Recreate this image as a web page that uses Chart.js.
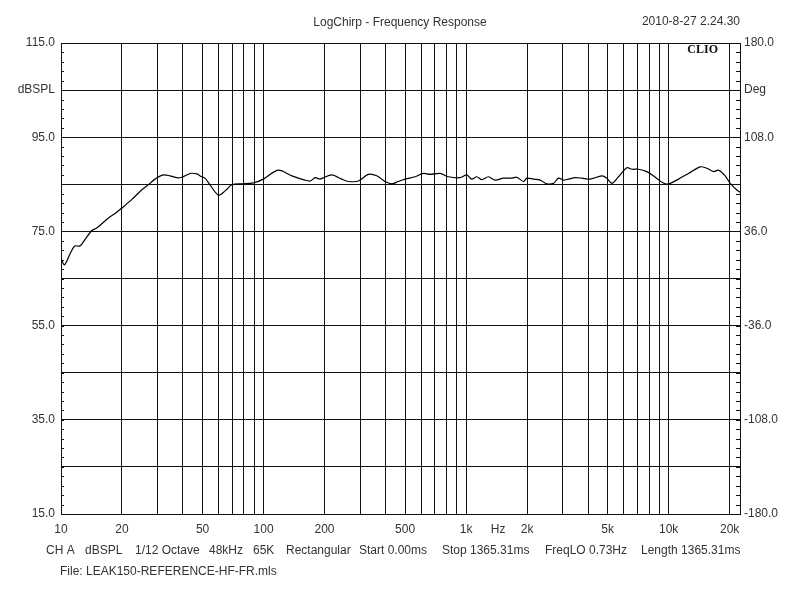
<!DOCTYPE html>
<html>
<head>
<meta charset="utf-8">
<script src="https://cdn.jsdelivr.net/npm/chart.js@4/dist/chart.umd.min.js"></script>
<style>
  html, body { margin: 0; padding: 0; background: #ffffff; }
  #wrap { width: 800px; height: 600px; }
</style>
</head>
<body>
<div id="wrap"><canvas id="c" width="800" height="600"></canvas></div>
<script>
// ---- data ----
const freqHz = [10, 10.4, 11.1, 11.7, 12.4, 13.1, 14.2, 15.0, 17.1, 18.5, 19.9, 22.4, 25.0, 27.5, 29.1,
  32.0, 34.5, 37.3, 39.5, 43.4, 46.8, 49.5, 51.4, 54.4, 59.8, 64.6, 69.7, 78.1, 89.1, 99.8,
  118, 138, 160, 170, 180, 190, 217, 243, 262, 294, 329, 362, 398, 430, 463, 500, 560, 615,
  664, 744, 818, 934, 1008, 1067, 1129, 1196, 1289, 1391, 1529, 1682, 1780, 1919, 1994, 2149,
  2320, 2503, 2699, 2857, 3024, 3201, 3454, 3727, 4095, 4679, 4953, 5243, 5650, 6218, 6581,
  7096, 7805, 8412, 9078, 9610, 10171, 11180, 12525, 14307, 15442, 16643, 17620, 19011,
  20124, 21720, 22500];
const splDb = [69.3, 67.9, 70.3, 71.9, 71.9, 73.2, 75.2, 75.7, 77.8, 78.8, 79.9, 81.8, 83.8, 85.2, 86.1,
  87.0, 86.8, 86.4, 86.5, 87.3, 87.2, 86.6, 86.3, 84.9, 82.7, 83.6, 84.9, 85.1, 85.3, 86.1,
  88.0, 86.8, 85.9, 85.7, 86.4, 86.1, 87.0, 86.1, 85.6, 85.7, 87.1, 86.8, 85.6, 85.1, 85.6, 86.1, 86.6, 87.3,
  87.1, 87.3, 86.6, 86.4, 87.0, 86.1, 86.6, 86.0, 86.6, 85.9, 86.3, 86.3, 86.5, 85.6, 86.3, 86.1,
  85.9, 85.1, 85.2, 86.3, 85.9, 86.1, 86.4, 86.3, 86.1, 86.8, 86.3, 85.2, 86.6, 88.5, 88.2,
  88.2, 87.7, 86.8, 85.7, 85.1, 85.2, 86.1, 87.3, 88.7, 88.4, 87.7, 88.0, 86.8,
  85.2, 83.8, 83.3];

// axis definitions
const xMin = 10, xMax = 22500;
const xGridFreqs = [20, 30, 40, 50, 60, 70, 80, 90, 100, 200, 300, 400, 500, 600, 700, 800, 900, 1000,
  2000, 3000, 4000, 5000, 6000, 7000, 8000, 9000, 10000, 20000];
const xTickLabels = {10: '10', 20: '20', 50: '50', 100: '100', 200: '200', 500: '500', 1000: '1k',
  1440: 'Hz', 2000: '2k', 5000: '5k', 10000: '10k', 20000: '20k'};
const yMin = 15, yMax = 115, yMinorStep = 2, yMajorStep = 10;
const yTickLabels = {115: '115.0', 105: 'dBSPL', 95: '95.0', 75: '75.0', 55: '55.0', 35: '35.0', 15: '15.0'};
const degMin = -180, degMax = 180, degMinorCount = 50;
const degTickLabels = {180: '180.0', 144: 'Deg', 108: '108.0', 36: '36.0', '-36': '-36.0', '-108': '-108.0', '-180': '-180.0'};

const titleText = 'LogChirp - Frequency Response';
const dateText = '2010-8-27 2.24.30';
const brandText = 'CLIO';
const footerItems = ['CH A', 'dBSPL', '1/12 Octave', '48kHz', '65K', 'Rectangular', 'Start 0.00ms',
  'Stop 1365.31ms', 'FreqLO 0.73Hz', 'Length 1365.31ms'];
const footerX = [46, 85, 135, 209, 253, 286, 359, 442, 545, 641];
const fileText = 'File: LEAK150-REFERENCE-HF-FR.mls';

const FONT = "'Liberation Sans', Arial, sans-serif";
const TXT = '#333333';
const GRID = '#111111';

const points = freqHz.map((f, i) => ({x: f, y: splDb[i]}));

const decorPlugin = {
  id: 'decor',
  afterDraw(chart) {
    const ctx = chart.ctx;
    const area = chart.chartArea;
    ctx.save();
    // minor tick marks inside the plot frame
    ctx.strokeStyle = GRID;
    ctx.lineWidth = 1;
    const ys = chart.scales.y, yr = chart.scales.y2;
    ctx.beginPath();
    ys.ticks.forEach(t => {
      const p = Math.round(ys.getPixelForValue(t.value)) + 0.5;
      ctx.moveTo(area.left, p); ctx.lineTo(area.left + 3, p);
    });
    yr.ticks.forEach(t => {
      const p = Math.round(yr.getPixelForValue(t.value)) + 0.5;
      ctx.moveTo(area.right - 4, p); ctx.lineTo(area.right, p);
    });
    ctx.stroke();
    // texts
    ctx.fillStyle = TXT;
    ctx.font = '12px ' + FONT;
    ctx.textBaseline = 'middle';
    ctx.textAlign = 'right';
    ctx.fillText(dateText, area.right, 22);
    ctx.textAlign = 'left';
    footerItems.forEach((s, i) => ctx.fillText(s, footerX[i], 551));
    ctx.fillText(fileText, 60, 572);
    ctx.font = "bold 12px 'Liberation Serif', 'Times New Roman', serif";
    ctx.fillStyle = '#111111';
    ctx.textAlign = 'right';
    ctx.fillText(brandText, area.right - 22, 50);
    ctx.restore();
  }
};

new Chart(document.getElementById('c'), {
  type: 'line',
  data: {
    datasets: [{
      data: points,
      borderColor: '#000000',
      borderWidth: 1.2,
      pointRadius: 0,
      tension: 0.3,
      fill: false,
      yAxisID: 'y'
    }]
  },
  options: {
    responsive: false,
    animation: false,
    devicePixelRatio: 1,
    layout: { padding: 0 },
    plugins: {
      legend: { display: false },
      tooltip: { enabled: false },
      title: {
        display: true,
        text: titleText,
        color: TXT,
        font: { family: FONT, size: 12, weight: 'normal' },
        padding: { top: 15, bottom: 13.6 }
      }
    },
    scales: {
      x: {
        type: 'logarithmic',
        position: 'bottom',
        min: xMin,
        max: xMax,
        afterBuildTicks: (scale) => {
          const vals = [xMin].concat(xGridFreqs, [1440]).sort((a, b) => a - b);
          scale.ticks = vals.map(v => ({value: v}));
        },
        afterFit: (scale) => { scale.height = 86; },
        ticks: {
          autoSkip: false,
          maxRotation: 0,
          padding: 8,
          color: TXT,
          font: { family: FONT, size: 12 },
          callback: (v) => xTickLabels[v] !== undefined ? xTickLabels[v] : ''
        },
        grid: {
          drawTicks: false,
          lineWidth: 1,
          color: (c) => (c.tick && xGridFreqs.includes(c.tick.value)) ? GRID : 'rgba(0,0,0,0)'
        },
        border: { display: true, color: GRID, width: 1 }
      },
      y: {
        type: 'linear',
        position: 'left',
        min: yMin,
        max: yMax,
        afterBuildTicks: (scale) => {
          const t = [];
          for (let v = yMin; v <= yMax; v += yMinorStep) t.push({value: v});
          scale.ticks = t;
        },
        afterFit: (scale) => { scale.width = 61; },
        ticks: {
          autoSkip: false,
          padding: 6,
          color: TXT,
          font: { family: FONT, size: 12 },
          callback: (v) => yTickLabels[v] !== undefined ? yTickLabels[v] : ''
        },
        grid: {
          drawTicks: false,
          lineWidth: 1,
          color: (c) => (c.tick && (c.tick.value - yMin) % yMajorStep === 0) ? GRID : 'rgba(0,0,0,0)'
        },
        border: { display: true, color: GRID, width: 1 }
      },
      y2: {
        type: 'linear',
        position: 'right',
        min: degMin,
        max: degMax,
        afterBuildTicks: (scale) => {
          const t = [];
          for (let i = 0; i <= degMinorCount; i++) {
            t.push({value: Math.round((degMin + (degMax - degMin) * i / degMinorCount) * 10) / 10});
          }
          scale.ticks = t;
        },
        afterFit: (scale) => { scale.width = 60; },
        ticks: {
          autoSkip: false,
          padding: 4,
          color: TXT,
          font: { family: FONT, size: 12 },
          callback: (v) => degTickLabels[String(v)] !== undefined ? degTickLabels[String(v)] : ''
        },
        grid: { drawOnChartArea: false, drawTicks: false },
        border: { display: true, color: GRID, width: 1 }
      }
    }
  },
  plugins: [decorPlugin]
});
</script>
</body>
</html>
